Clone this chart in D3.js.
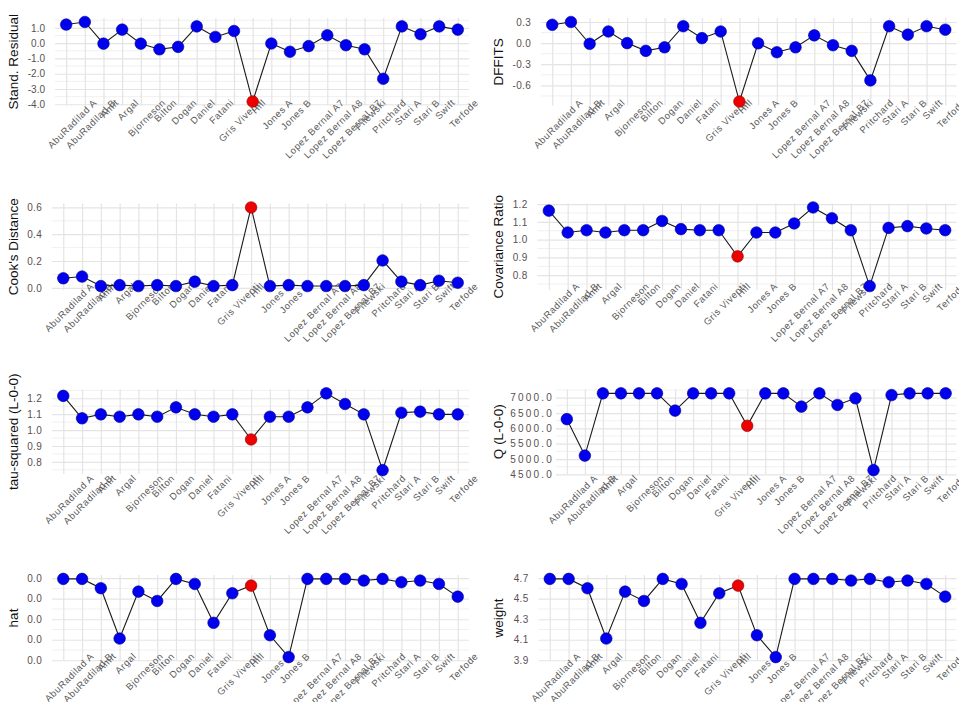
<!DOCTYPE html>
<html>
<head>
<meta charset="utf-8">
<script src="https://cdn.jsdelivr.net/npm/d3@7"></script>
<style>
  body { margin: 0; background: #fff; }
  text { font-family: "Liberation Sans", Arial, sans-serif; }
</style>
</head>
<body>
<svg id="chart" width="959" height="702"></svg>
<script>

// studies along the x axis (same order in every panel)
const studies = ["AbuRadilad A", "AbuRadilad B", "Amit", "Argal", "Bjorneson", "Bilton", "Dogan", "Daniel",
  "Fatani", "Gris Viventi", "Hill", "Jones A", "Jones B", "Lopez Bernal A7", "Lopez Bernal A8",
  "Lopez Bernal B7", "Pilewski", "Pritchard", "Stari A", "Stari B", "Swift", "Terfode"];

// the study drawn in red
const flaggedStudy = "Hill";

// series
const standResid = [1.22, 1.39, -0.03, 0.89, -0.03, -0.40, -0.24, 1.10, 0.41, 0.80, -3.82, -0.02, -0.56, -0.19, 0.52, -0.13, -0.40, -2.33, 1.10, 0.59, 1.10, 0.89];
const dffits = [0.26, 0.30, -0.01, 0.165, 0.0, -0.11, -0.06, 0.24, 0.07, 0.165, -0.83, -0.003, -0.13, -0.06, 0.11, -0.03, -0.11, -0.53, 0.24, 0.12, 0.24, 0.19];
const cooksD = [0.071, 0.084, 0.013, 0.020, 0.013, 0.020, 0.013, 0.046, 0.013, 0.020, 0.600, 0.013, 0.020, 0.013, 0.013, 0.013, 0.020, 0.204, 0.046, 0.020, 0.053, 0.038];
const covRatio = [1.163, 1.040, 1.053, 1.040, 1.053, 1.053, 1.105, 1.059, 1.053, 1.053, 0.906, 1.040, 1.040, 1.091, 1.181, 1.120, 1.053, 0.739, 1.066, 1.076, 1.063, 1.053];
const tau2Loo = [1.215, 1.074, 1.099, 1.084, 1.099, 1.084, 1.143, 1.099, 1.084, 1.099, 0.941, 1.084, 1.084, 1.143, 1.231, 1.164, 1.099, 0.748, 1.109, 1.116, 1.099, 1.099];
const qLoo = [6301, 5113, 7142, 7142, 7142, 7142, 6580, 7142, 7142, 7142, 6084, 7142, 7142, 6709, 7142, 6764, 6980, 4638, 7087, 7142, 7142, 7142];
const hatVals = [0.04693, 0.04693, 0.04602, 0.04112, 0.04569, 0.04478, 0.04693, 0.04644, 0.04265, 0.04553, 0.04628, 0.04144, 0.03931, 0.04693, 0.04693, 0.04693, 0.04677, 0.04693, 0.04661, 0.04677, 0.04644, 0.04520];
const weightVals = [4.693, 4.693, 4.602, 4.112, 4.569, 4.478, 4.693, 4.644, 4.265, 4.553, 4.628, 4.144, 3.931, 4.693, 4.693, 4.693, 4.677, 4.693, 4.661, 4.677, 4.644, 4.520];

// tick values on each y axis
const standResidTicks = [1, 0, -1, -2, -3, -4];
const dffitsTicks = [0.3, 0, -0.3, -0.6];
const cooksTicks = [0.6, 0.4, 0.2, 0];
const covTicks = [1.2, 1.1, 1.0, 0.9, 0.8];
const tau2Ticks = [1.2, 1.1, 1.0, 0.9, 0.8];
const qTicks = [7000, 6500, 6000, 5500, 5000, 4500];
const hatTicks = [0.047, 0.045, 0.043, 0.041, 0.039];
const weightTicks = [4.7, 4.5, 4.3, 4.1, 3.9];

// layout
const rows = [
  { top: 18, bottom: 105.5, lab: -8 },
  { top: 203.5, bottom: 290, lab: -9 },
  { top: 389.5, bottom: 474, lab: -1 },
  { top: 575, bottom: 661, lab: -10 }
];
const cols = [
  { x: 13, right: 469 },
  { x: 498, right: 956.5 }
];

const panels = [
  { title: "Stand.  Residual", values: standResid, ticks: standResidTicks, row: 0, col: 0, left: 55, gap: 10, ls: 0 },
  { title: "DFFITS", values: dffits, ticks: dffitsTicks, row: 0, col: 1, left: 541, gap: 10, ls: 0.3 },
  { title: "Cook's  Distance", values: cooksD, ticks: cooksTicks, row: 1, col: 0, left: 52, gap: 10, ls: 0.3 },
  { title: "Covariance  Ratio", values: covRatio, ticks: covTicks, row: 1, col: 1, left: 537.5, gap: 10, ls: 0.3 },
  { title: "tau-squared (L-0-0)", values: tau2Loo, ticks: tau2Ticks, row: 2, col: 0, left: 52, gap: 10, ls: 0.3 },
  { title: "Q (L-0-0)", values: qLoo, ticks: qTicks, row: 2, col: 1, left: 556, gap: 2, ls: 2.2 },
  { title: "hat", values: hatVals, ticks: hatTicks, row: 3, col: 0, left: 52, gap: 10, ls: 0.3 },
  { title: "weight", values: weightVals, ticks: weightTicks, row: 3, col: 1, left: 538.5, gap: 10, ls: 0.3 }
];

const svg = d3.select("#chart");
const fmt1 = d3.format(".1f");
const fmt = function(v) { return fmt1(v).replace("\u2212", "-"); };
const labSize = 9.5;

panels.forEach(function(p) {
  const r = rows[p.row];
  const c = cols[p.col];
  const w = c.right - p.left;
  const h = r.bottom - r.top;

  const x = d3.scalePoint().domain(studies).range([p.left, c.right]).padding(0.6);
  const ext = d3.extent(p.values);
  const pad = (ext[1] - ext[0]) * 0.05;
  const y = d3.scaleLinear().domain([ext[0] - pad, ext[1] + pad]).range([r.bottom, r.top]);
  const dom = y.domain();

  const g = svg.append("g");

  // minor horizontal grid, halfway between ticks
  const t = p.ticks.slice().sort(function(a, b) { return a - b; });
  const st = t[1] - t[0];
  let minor = [];
  for (let i = 0; i < t.length - 1; i++) minor.push((t[i] + t[i + 1]) / 2);
  minor.push(t[0] - st / 2, t[t.length - 1] + st / 2);
  minor = minor.filter(function(v) { return v >= dom[0] && v <= dom[1]; });

  g.selectAll(".minor")
    .data(minor)
    .enter().append("line")
    .attr("class", "minor")
    .attr("x1", p.left).attr("x2", c.right)
    .attr("y1", function(d) { return y(d); })
    .attr("y2", function(d) { return y(d); })
    .attr("stroke", "#eeeeee")
    .attr("stroke-width", 0.9);

  // vertical grid at each study
  g.append("g")
    .attr("transform", "translate(0," + r.bottom + ")")
    .call(d3.axisBottom(x).tickSize(-h).tickFormat(""))
    .call(function(a) { a.select(".domain").remove(); })
    .selectAll("line").attr("stroke", "#e4e4e4").attr("stroke-width", 1.2);

  // y axis: major grid + labels
  g.append("g")
    .attr("transform", "translate(" + p.left + ",0)")
    .call(d3.axisLeft(y).tickValues(p.ticks).tickSize(-w).tickPadding(p.gap).tickFormat(fmt))
    .call(function(a) {
      a.select(".domain").remove();
      a.selectAll("line").attr("stroke", "#e4e4e4").attr("stroke-width", 1.2);
      a.selectAll("text").attr("fill", "#5a5050").style("font-size", "10px").style("letter-spacing", p.ls + "px");
    });

  // rotated study labels
  g.selectAll(".lab")
    .data(studies)
    .enter().append("text")
    .attr("class", "lab")
    .attr("text-anchor", "middle")
    .attr("dy", "0.35em")
    .attr("fill", "#5a5a5a")
    .style("font-size", labSize + "px")
    .style("letter-spacing", "0.6px")
    .text(function(d) { return d; })
    .attr("transform", function(d) {
      const L = this.getComputedTextLength();
      const cx = x(d) + 6;
      const cy = r.bottom + r.lab + (L + labSize) * 0.354;
      return "translate(" + cx + "," + cy + ") rotate(-45)";
    });

  // line and points
  const line = d3.line()
    .x(function(d, i) { return x(studies[i]); })
    .y(function(d) { return y(d); });

  g.append("path")
    .datum(p.values)
    .attr("d", line)
    .attr("fill", "none")
    .attr("stroke", "#1a1a1a")
    .attr("stroke-width", 1.1);

  g.selectAll(".pt")
    .data(p.values)
    .enter().append("circle")
    .attr("class", "pt")
    .attr("cx", function(d, i) { return x(studies[i]); })
    .attr("cy", function(d) { return y(d); })
    .attr("r", 5.8)
    .attr("fill", function(d, i) { return studies[i] === flaggedStudy ? "#ee0000" : "#0000ee"; })
    .attr("stroke", function(d, i) { return studies[i] === flaggedStudy ? "#8b0000" : "#00008b"; })
    .attr("stroke-width", 0.6);

  // y title
  g.append("text")
    .attr("transform", "translate(" + c.x + "," + ((r.top + r.bottom) / 2) + ") rotate(-90)")
    .attr("text-anchor", "middle")
    .attr("dy", "0.35em")
    .attr("fill", "#111")
    .style("font-size", "13.5px")
    .text(p.title);
});

</script>
</body>
</html>
